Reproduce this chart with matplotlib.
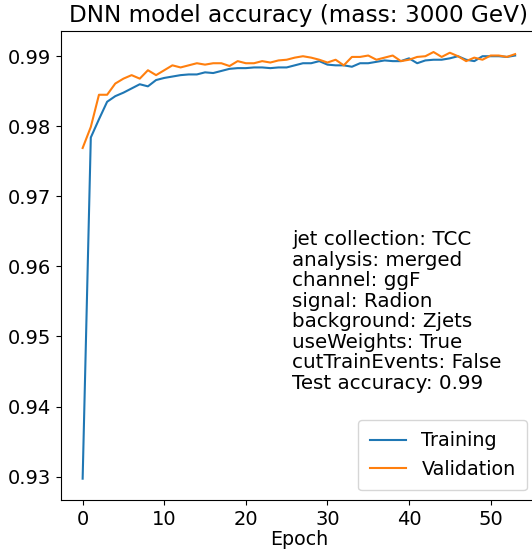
import matplotlib
matplotlib.use("Agg")
import matplotlib.pyplot as plt

# accuracy per epoch
train_acc = [0.9297, 0.9784, 0.9810, 0.9835, 0.9843, 0.9848, 0.9854, 0.9860, 0.9857, 0.9866,
             0.9869, 0.9871, 0.9873, 0.9874, 0.9874, 0.9877, 0.9876, 0.9879, 0.9882, 0.9883,
             0.9883, 0.9884, 0.9884, 0.9883, 0.9884, 0.9884, 0.9887, 0.9890, 0.9890, 0.9893,
             0.9888, 0.9887, 0.9887, 0.9885, 0.9890, 0.9890, 0.9892, 0.9894, 0.9893, 0.9893,
             0.9897, 0.9890, 0.9894, 0.9895, 0.9895, 0.9897, 0.9900, 0.9895, 0.9893, 0.9900,
             0.9900, 0.9900, 0.9899, 0.9901]
val_acc = [0.9769, 0.9799, 0.9845, 0.9845, 0.9861, 0.9868, 0.9873, 0.9868, 0.9880, 0.9873,
           0.9880, 0.9887, 0.9884, 0.9887, 0.9890, 0.9888, 0.9890, 0.9890, 0.9886, 0.9893,
           0.9890, 0.9890, 0.9893, 0.9891, 0.9894, 0.9895, 0.9898, 0.9900, 0.9898, 0.9895,
           0.9891, 0.9895, 0.9887, 0.9899, 0.9899, 0.9901, 0.9895, 0.9898, 0.9901, 0.9893,
           0.9895, 0.9899, 0.9900, 0.9906, 0.9899, 0.9905, 0.9900, 0.9893, 0.9898, 0.9895,
           0.9901, 0.9901, 0.9899, 0.9903]
epochs = list(range(len(train_acc)))

info_lines = ["jet collection: TCC", "analysis: merged", "channel: ggF", "signal: Radion",
              "background: Zjets", "useWeights: True", "cutTrainEvents: False",
              "Test accuracy: 0.99"]

fs = 14
fig = plt.figure(figsize=(5.32, 5.5), dpi=100)
ax = fig.add_axes([0.1147, 0.0909, 0.8942, 0.8533])

ax.plot(epochs, train_acc, label="Training")
ax.plot(epochs, val_acc, label="Validation")

ax.set_title("DNN model accuracy (mass: 3000 GeV)", fontsize=16.7)
ax.set_xlabel("Epoch", fontsize=13.7, labelpad=1)
ax.tick_params(labelsize=fs)
ax.set_yticks([0.93, 0.94, 0.95, 0.96, 0.97, 0.98, 0.99])
ax.set_xticks([0, 10, 20, 30, 40, 50])
ax.spines["right"].set_visible(False)

ax.legend(loc="lower right", fontsize=13.8, borderpad=0.6, handlelength=1.9)
ax.text(0.486, 0.575, "\n".join(info_lines), transform=ax.transAxes,
        fontsize=14.3, va="top", ha="left", linespacing=1.1)

fig.savefig("out.png", dpi=100)
